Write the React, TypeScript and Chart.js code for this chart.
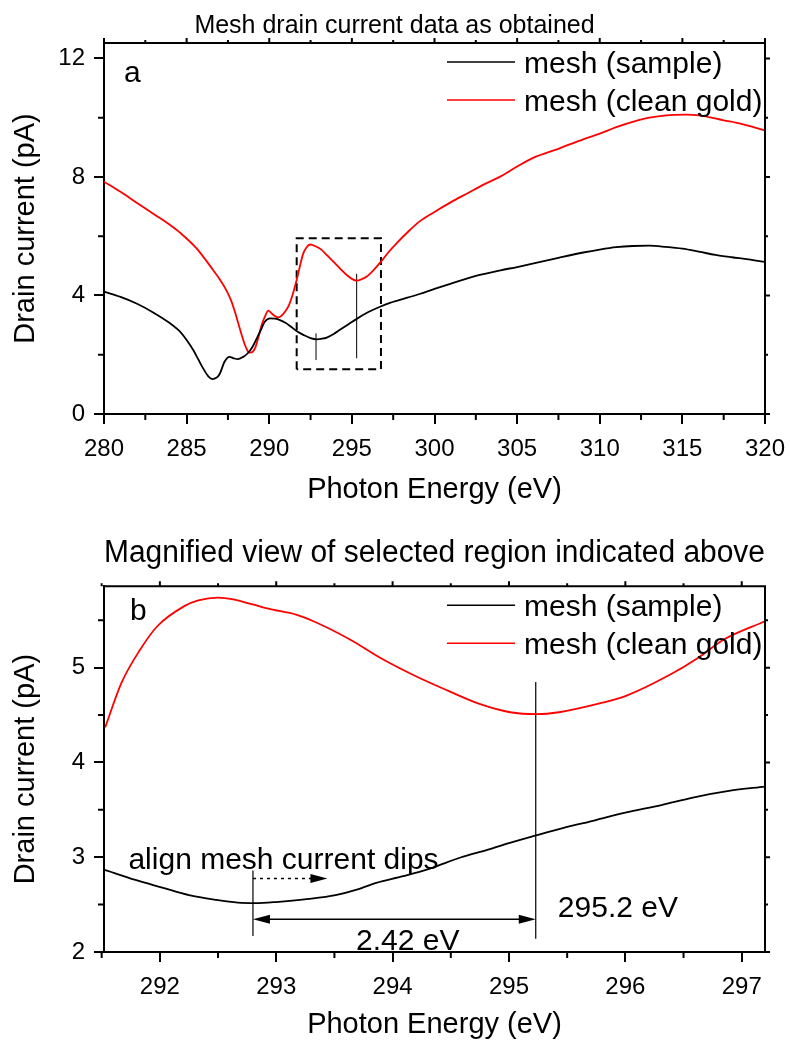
import React, { useEffect, useRef } from 'react';
import { Chart, registerables } from 'chart.js';

Chart.register(...registerables);

const FONT = "'Liberation Sans', Arial, Helvetica, sans-serif";
Chart.defaults.font.family = FONT;
Chart.defaults.color = '#000';

// ---------------- Panel a : mesh drain current as obtained ----------------
const energySampleA = [280, 281, 282, 283, 284, 284.6, 285, 285.4, 285.7, 286.0, 286.3, 286.55, 286.8, 287.0, 287.3, 287.6, 287.85, 288.1, 288.4, 288.7, 289.0, 289.2, 289.5, 289.74, 290.05, 290.35, 290.65, 291.0, 291.26, 291.7, 292.06, 292.5, 292.87, 293.2, 293.48, 293.9, 294.28, 294.8, 295.29, 296.0, 296.7, 297.3, 297.9, 299.1, 300, 301, 302.5, 304, 305, 306, 307.5, 309, 310, 311, 312, 313, 314, 315, 316, 317, 318, 319, 320];
const sampleA = [4.13, 3.95, 3.72, 3.42, 3.06, 2.78, 2.5, 2.16, 1.85, 1.54, 1.28, 1.18, 1.22, 1.35, 1.77, 1.93, 1.88, 1.85, 1.92, 2.05, 2.28, 2.5, 2.85, 3.12, 3.23, 3.22, 3.17, 3.07, 2.97, 2.78, 2.67, 2.56, 2.52, 2.54, 2.58, 2.7, 2.84, 3.03, 3.21, 3.44, 3.62, 3.75, 3.85, 4.05, 4.22, 4.4, 4.66, 4.85, 4.96, 5.08, 5.27, 5.45, 5.55, 5.63, 5.67, 5.68, 5.64, 5.58, 5.48, 5.37, 5.29, 5.22, 5.13];
const energyGoldA = [280, 281, 282, 283, 284, 284.6, 285.6, 286.6, 287.0, 287.4, 287.7, 287.95, 288.13, 288.35, 288.53, 288.7, 288.84, 289.0, 289.14, 289.35, 289.54, 289.75, 289.94, 290.1, 290.25, 290.55, 290.85, 291.15, 291.4, 291.66, 291.86, 292.06, 292.25, 292.47, 292.8, 293.17, 293.5, 293.88, 294.3, 294.69, 295.0, 295.29, 295.6, 295.9, 296.3, 296.76, 297.2, 297.7, 298.4, 299.1, 300, 301, 302, 303, 304, 305, 306, 307.5, 309, 310, 311, 312.3, 313, 314, 315.2, 316, 317.5, 318.5, 319.3, 320];
const goldA = [7.84, 7.5, 7.12, 6.75, 6.38, 6.12, 5.59, 4.86, 4.55, 4.18, 3.82, 3.4, 3.05, 2.63, 2.33, 2.12, 2.07, 2.1, 2.22, 2.6, 3.0, 3.3, 3.49, 3.42, 3.34, 3.26, 3.38, 3.62, 4.0, 4.52, 5.0, 5.42, 5.62, 5.72, 5.66, 5.54, 5.35, 5.14, 4.9, 4.69, 4.56, 4.5, 4.55, 4.64, 4.85, 5.14, 5.45, 5.76, 6.15, 6.5, 6.82, 7.15, 7.45, 7.75, 8.02, 8.35, 8.65, 8.95, 9.27, 9.46, 9.68, 9.91, 10.0, 10.08, 10.1, 10.08, 9.91, 9.8, 9.68, 9.57];
const xTicksA = [280, 285, 290, 295, 300, 305, 310, 315, 320];
const xMinorA = [282.5, 287.5, 292.5, 297.5, 302.5, 307.5, 312.5, 317.5];
const yTicksA = [0, 4, 8, 12];
const yMinorA = [2, 6, 10];
const boxXA = [291.66, 296.76];
const boxYA = [1.51, 5.93];
const sampleDipA = [292.83, 1.82, 2.72]; // x, y from, y to
const goldDipA = [295.29, 1.88, 4.73];

// ---------------- Panel b : magnified region ----------------
const energySampleB = [291.52, 291.79, 292.02, 292.25, 292.48, 292.67, 292.82, 293.02, 293.28, 293.51, 293.7, 293.86, 294.09, 294.32, 294.59, 294.82, 295.0, 295.23, 295.47, 295.74, 296.0, 296.31, 296.58, 296.89, 297.2];
const sampleB = [2.87, 2.76, 2.68, 2.6, 2.55, 2.52, 2.515, 2.53, 2.56, 2.6, 2.66, 2.73, 2.8, 2.88, 3.0, 3.08, 3.15, 3.23, 3.31, 3.39, 3.47, 3.55, 3.63, 3.7, 3.745];
const energyGoldB = [291.53, 291.67, 291.83, 291.98, 292.21, 292.33, 292.5, 292.63, 292.79, 292.94, 293.17, 293.32, 293.63, 293.9, 294.2, 294.47, 294.74, 295.01, 295.24, 295.43, 295.77, 296.0, 296.39, 296.62, 296.85, 297.2];
const goldB = [4.37, 4.84, 5.19, 5.44, 5.65, 5.71, 5.74, 5.72, 5.67, 5.62, 5.56, 5.49, 5.3, 5.1, 4.91, 4.76, 4.62, 4.53, 4.51, 4.53, 4.62, 4.7, 4.93, 5.1, 5.3, 5.49];
const xTicksB = [292, 293, 294, 295, 296, 297];
const xMinorB = [291.5, 292.5, 293.5, 294.5, 295.5, 296.5];
const yTicksB = [2, 3, 4, 5];
const yMinorB = [2.5, 3.5, 4.5, 5.5];
const sampleDipB = [292.8, 2.17, 2.86];
const goldDipB = [295.23, 2.14, 4.85];
const shiftArrowB = [292.8, 293.44, 2.775]; // x from, x to, y
const spanArrowB = [292.8, 295.23, 2.345];
const alignTextB = [291.73, 2.88];
const spanTextB = [294.13, 2.02];
const peakTextB = [295.42, 2.365];

const legendLabels = ['mesh (sample)', 'mesh (clean gold)'];
const seriesColors = ['#000000', '#ff0000'];

const pts = (xs: number[], ys: number[]) => xs.map((x, i) => ({ x, y: ys[i] }));
const vline = (v: number[]) => [{ x: v[0], y: v[1] }, { x: v[0], y: v[2] }];

function drawFrame(chart: any, xMajor: number[], xMinor: number[], yMajor: number[], yMinor: number[]) {
  const { ctx, chartArea: a } = chart;
  const sx = chart.scales.x;
  const sy = chart.scales.y;
  ctx.save();
  ctx.strokeStyle = '#000';
  ctx.lineWidth = 2;
  ctx.beginPath();
  ctx.moveTo(a.left - 1, a.top);
  ctx.lineTo(a.right, a.top);
  ctx.lineTo(a.right, a.bottom + 1);
  ctx.stroke();
  ctx.beginPath();
  xMinor.forEach((v) => {
    const p = sx.getPixelForValue(v);
    ctx.moveTo(p, a.bottom);
    ctx.lineTo(p, a.bottom + 6);
    ctx.moveTo(p, a.top);
    ctx.lineTo(p, a.top - 3);
  });
  xMajor.forEach((v) => {
    const p = sx.getPixelForValue(v);
    ctx.moveTo(p, a.top);
    ctx.lineTo(p, a.top - 5);
  });
  yMinor.forEach((v) => {
    const p = sy.getPixelForValue(v);
    ctx.moveTo(a.left, p);
    ctx.lineTo(a.left - 6, p);
    ctx.moveTo(a.right, p);
    ctx.lineTo(a.right + 3, p);
  });
  yMajor.forEach((v) => {
    const p = sy.getPixelForValue(v);
    ctx.moveTo(a.right, p);
    ctx.lineTo(a.right + 5, p);
  });
  ctx.stroke();
  ctx.restore();
}

function drawLegend(chart: any) {
  const { ctx, chartArea: a } = chart;
  ctx.save();
  ctx.font = `30px ${FONT}`;
  ctx.textAlign = 'left';
  ctx.textBaseline = 'alphabetic';
  legendLabels.forEach((lab, i) => {
    const y = a.top + 19 + i * 38;
    ctx.strokeStyle = seriesColors[i];
    ctx.lineWidth = 1.6;
    ctx.beginPath();
    ctx.moveTo(a.right - 318, y);
    ctx.lineTo(a.right - 250, y);
    ctx.stroke();
    ctx.fillStyle = '#000';
    ctx.fillText(lab, a.right - 241, y + 11);
  });
  ctx.restore();
}

function arrowHead(ctx: CanvasRenderingContext2D, tipX: number, tipY: number, dir: number) {
  const len = 17;
  const half = 4.5;
  ctx.beginPath();
  ctx.moveTo(tipX, tipY);
  ctx.lineTo(tipX - dir * len, tipY - half);
  ctx.lineTo(tipX - dir * len, tipY + half);
  ctx.closePath();
  ctx.fill();
}

const decorA = {
  id: 'decorA',
  afterDraw(chart: any) {
    drawFrame(chart, xTicksA, xMinorA, yTicksA, yMinorA);
    drawLegend(chart);
    const { ctx, chartArea: a } = chart;
    ctx.save();
    ctx.fillStyle = '#000';
    ctx.font = `30px ${FONT}`;
    ctx.textAlign = 'left';
    ctx.textBaseline = 'alphabetic';
    ctx.fillText('a', a.left + 20, a.top + 39);
    ctx.restore();
  },
};

const decorB = {
  id: 'decorB',
  afterDraw(chart: any) {
    drawFrame(chart, xTicksB, xMinorB, yTicksB, yMinorB);
    drawLegend(chart);
    const { ctx, chartArea: a } = chart;
    const sx = chart.scales.x;
    const sy = chart.scales.y;
    ctx.save();
    ctx.fillStyle = '#000';
    ctx.strokeStyle = '#000';
    ctx.font = `30px ${FONT}`;
    ctx.textAlign = 'left';
    ctx.textBaseline = 'alphabetic';
    ctx.fillText('b', a.left + 26, a.top + 34);

    // dotted shift arrow
    const dy = sy.getPixelForValue(shiftArrowB[2]);
    const dx0 = sx.getPixelForValue(shiftArrowB[0]);
    const dx1 = sx.getPixelForValue(shiftArrowB[1]);
    ctx.lineWidth = 1.5;
    ctx.setLineDash([3, 4]);
    ctx.beginPath();
    ctx.moveTo(dx0, dy);
    ctx.lineTo(dx1 - 16, dy);
    ctx.stroke();
    ctx.setLineDash([]);
    arrowHead(ctx, dx1, dy, 1);

    // double arrow spanning the shift
    const sy2 = sy.getPixelForValue(spanArrowB[2]);
    const sx0 = sx.getPixelForValue(spanArrowB[0]);
    const sx1 = sx.getPixelForValue(spanArrowB[1]);
    ctx.lineWidth = 1.5;
    ctx.beginPath();
    ctx.moveTo(sx0 + 10, sy2);
    ctx.lineTo(sx1 - 10, sy2);
    ctx.stroke();
    arrowHead(ctx, sx0, sy2, -1);
    arrowHead(ctx, sx1, sy2, 1);

    ctx.fillText('align mesh current dips', sx.getPixelForValue(alignTextB[0]), sy.getPixelForValue(alignTextB[1]));
    ctx.textAlign = 'center';
    ctx.fillText('2.42 eV', sx.getPixelForValue(spanTextB[0]), sy.getPixelForValue(spanTextB[1]));
    ctx.textAlign = 'left';
    ctx.fillText('295.2 eV', sx.getPixelForValue(peakTextB[0]), sy.getPixelForValue(peakTextB[1]));
    ctx.restore();
  },
};

function axisX(min: number, max: number, ticks: number[], height: number, titlePadBottom: number) {
  return {
    type: 'linear',
    min,
    max,
    afterBuildTicks: (s: any) => {
      s.ticks = ticks.map((v) => ({ value: v }));
    },
    afterFit: (s: any) => {
      s.height = height;
      s.paddingLeft = 0;
      s.paddingRight = 0;
    },
    grid: { display: true, drawOnChartArea: false, drawTicks: true, tickLength: 10, color: '#000', lineWidth: 2 },
    border: { display: true, color: '#000', width: 2 },
    ticks: {
      color: '#000',
      font: { family: FONT, size: 24 },
      padding: 11,
      autoSkip: false,
      maxRotation: 0,
      callback: (v: any) => String(v),
    },
    title: {
      display: true,
      text: 'Photon Energy (eV)',
      color: '#000',
      font: { family: FONT, size: 29 },
      padding: { top: 0, bottom: titlePadBottom },
    },
  };
}

function axisY(min: number, max: number, ticks: number[], width: number, titlePadTop: number) {
  return {
    type: 'linear',
    min,
    max,
    afterBuildTicks: (s: any) => {
      s.ticks = ticks.map((v) => ({ value: v }));
    },
    afterFit: (s: any) => {
      s.width = width;
    },
    grid: { display: true, drawOnChartArea: false, drawTicks: true, tickLength: 10, color: '#000', lineWidth: 2 },
    border: { display: true, color: '#000', width: 2 },
    ticks: {
      color: '#000',
      font: { family: FONT, size: 24 },
      padding: 9,
      autoSkip: false,
      callback: (v: any) => String(v),
    },
    title: {
      display: true,
      text: 'Drain current (pA)',
      color: '#000',
      font: { family: FONT, size: 29 },
      padding: { top: titlePadTop, bottom: 0 },
    },
  };
}

const curve = (label: string, data: any, color: string) => ({
  label,
  data,
  borderColor: color,
  backgroundColor: color,
  borderWidth: 1.8,
  pointRadius: 0,
  fill: false,
  cubicInterpolationMode: 'monotone',
});

const mark = (label: string, data: any, width: number, dash: number[] = []) => ({
  label,
  data,
  borderColor: '#000',
  backgroundColor: '#000',
  borderWidth: width,
  borderDash: dash,
  pointRadius: 0,
  fill: false,
  tension: 0,
});

function makeConfigA(): any {
  const box = [
    { x: boxXA[0], y: boxYA[0] },
    { x: boxXA[0], y: boxYA[1] },
    { x: boxXA[1], y: boxYA[1] },
    { x: boxXA[1], y: boxYA[0] },
    { x: boxXA[0], y: boxYA[0] },
  ];
  return {
    type: 'line',
    data: {
      datasets: [
        curve(legendLabels[0], pts(energySampleA, sampleA), seriesColors[0]),
        curve(legendLabels[1], pts(energyGoldA, goldA), seriesColors[1]),
        mark('box', box, 2, [8, 5]),
        mark('sample dip', vline(sampleDipA), 1),
        mark('gold dip', vline(goldDipA), 1),
      ],
    },
    options: {
      animation: false,
      responsive: false,
      layout: { padding: { left: 24, right: 25, top: 0, bottom: 0 } },
      plugins: {
        legend: { display: false },
        tooltip: { enabled: false },
        title: {
          display: true,
          text: 'Mesh drain current data as obtained',
          color: '#000',
          font: { family: FONT, size: 25, weight: 'normal' },
          padding: { top: 11, bottom: 2 },
        },
      },
      scales: {
        x: axisX(280, 320, xTicksA, 106, 13),
        y: axisY(0, 12.52, yTicksA, 80, -15),
      },
    },
    plugins: [decorA],
  };
}

function makeConfigB(): any {
  return {
    type: 'line',
    data: {
      datasets: [
        curve(legendLabels[0], pts(energySampleB, sampleB), seriesColors[0]),
        curve(legendLabels[1], pts(energyGoldB, goldB), seriesColors[1]),
        mark('sample dip', vline(sampleDipB), 1.2),
        mark('gold dip', vline(goldDipB), 1.2),
      ],
    },
    options: {
      animation: false,
      responsive: false,
      layout: { padding: { left: 0, right: 25, top: 0, bottom: 0 } },
      plugins: {
        legend: { display: false },
        tooltip: { enabled: false },
        title: {
          display: true,
          fullSize: false,
          text: 'Magnified view of selected region indicated above',
          color: '#000',
          font: { family: FONT, size: 31, weight: 'normal' },
          padding: { top: 15, bottom: 14 },
        },
      },
      scales: {
        x: axisX(291.52, 297.2, xTicksB, 98, 8),
        y: axisY(2, 5.86, yTicksB, 104, 9),
      },
    },
    plugins: [decorB],
  };
}

function ChartCanvas({ make, width, height }: { make: () => any; width: number; height: number }) {
  const ref = useRef<HTMLCanvasElement | null>(null);
  useEffect(() => {
    if (!ref.current) return;
    const chart = new Chart(ref.current, make());
    return () => chart.destroy();
  }, [make]);
  return <canvas ref={ref} width={width} height={height} style={{ display: 'block', width, height }} />;
}

export default function App() {
  return (
    <div style={{ position: 'absolute', left: 0, top: 0, width: 790, height: 1050, background: '#fff' }}>
      <ChartCanvas make={makeConfigA} width={790} height={520} />
      <ChartCanvas make={makeConfigB} width={790} height={530} />
    </div>
  );
}
